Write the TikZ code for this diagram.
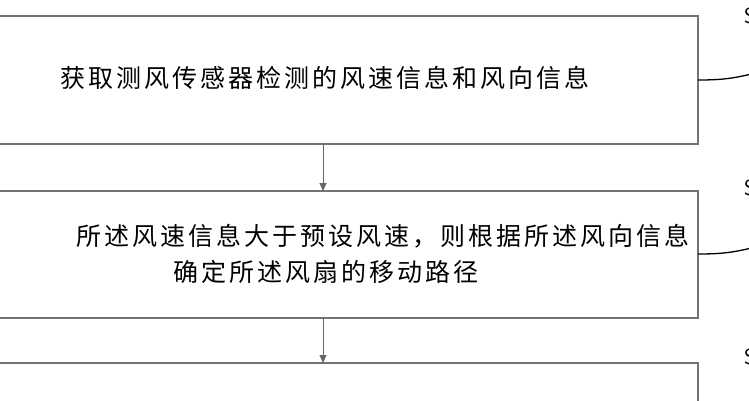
\documentclass[tikz,border=0pt]{standalone}
\usepackage{fontspec}
\usetikzlibrary{arrows.meta}
\newfontfamily\cjk[LetterSpace=12]{Noto Sans CJK SC}
\begin{document}
\begin{tikzpicture}[x=1pt,y=-1pt,
  stepbox/.style={draw=black!55,line width=1.2pt},
  txt/.style={font=\cjk\fontsize{25}{36}\selectfont,inner sep=0},
  arr/.style={draw=black!60,line width=1pt,-{Triangle[length=8pt,width=7pt]}},
  lead/.style={draw=black,line width=1.3pt},
  lab/.style={font=\sffamily\fontsize{22}{22}\selectfont,anchor=west,inner sep=0}]
\useasboundingbox (0,0) rectangle (749,400);
\clip (0,0) rectangle (749,400);
\draw[stepbox] (-20,16) rectangle (698,144);
\draw[stepbox] (-20,191) rectangle (698,318);
\draw[stepbox] (-20,363) rectangle (698,420);
\coordinate (b1) at (323,144); \coordinate (t2) at (323,191);
\coordinate (b2) at (323,318); \coordinate (t3) at (323,363);
\node[txt] (n1) at (325,78) {获取测风传感器检测的风速信息和风向信息};
\node[txt,anchor=east] (n2a) at (690,236) {所述风速信息大于预设风速，则根据所述风向信息};
\node[txt] (n2b) at (326,272) {确定所述风扇的移动路径};
\draw[arr] (b1) -- (t2);
\draw[arr] (b2) -- (t3);
\coordinate (r1) at (698,80); \coordinate (r2) at (698,254);
\coordinate (e1) at (760,72); \coordinate (e2) at (760,246);
\draw[lead] (r1) .. controls (725,80) and (735,78) .. (e1);
\draw[lead] (r2) .. controls (725,254) and (735,252) .. (e2);
\node[lab] (s1) at (744,16) {S};
\node[lab] (s2) at (744,188) {S};
\node[lab] (s3) at (744,357) {S};
\end{tikzpicture}
\end{document}
